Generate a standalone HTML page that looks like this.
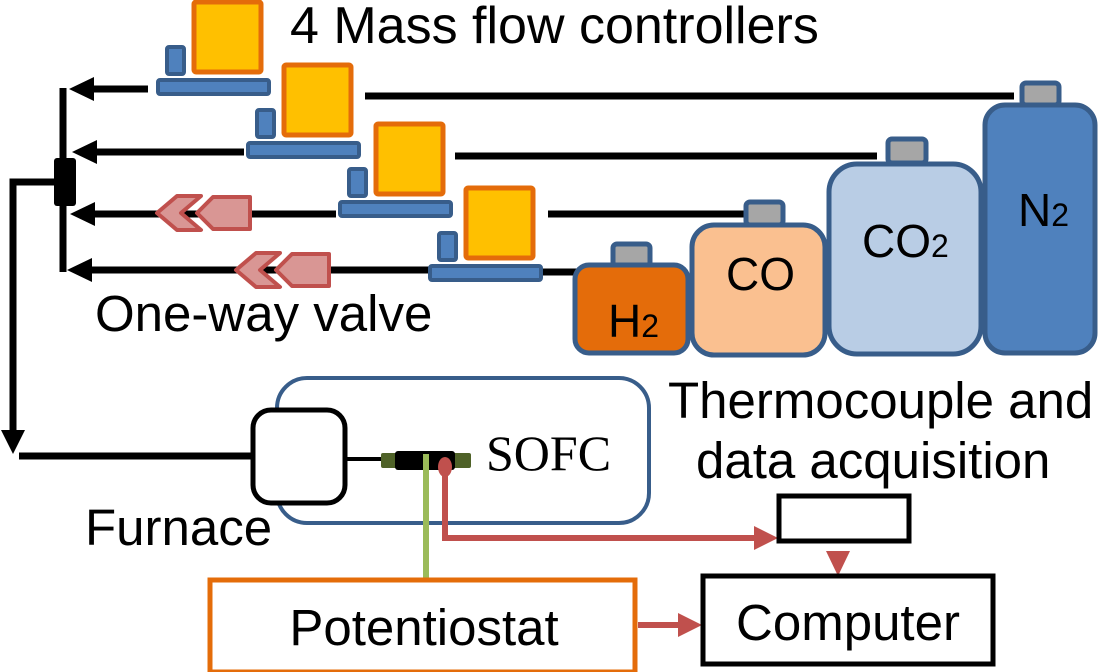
<!DOCTYPE html>
<html><head><meta charset="utf-8"><style>
html,body{margin:0;padding:0;background:#fff;}
svg{display:block;}
text{font-family:"Liberation Sans",sans-serif;fill:#000;}
</style></head><body>
<svg width="1100" height="672" viewBox="0 0 1100 672" xmlns="http://www.w3.org/2000/svg">
<defs>
<g id="mfc">
  <rect x="2" y="2" width="67" height="70" fill="#ffc000" stroke="#e46c0a" stroke-width="5" rx="2"/>
  <rect x="-25" y="47" width="17" height="27" fill="#4f81bd" stroke="#385d8a" stroke-width="4" rx="2"/>
  <rect x="-34" y="80" width="111" height="14" fill="#4f81bd" stroke="#385d8a" stroke-width="4" rx="2"/>
</g>
<g id="valve">
  <polygon points="0,17 20,0 44,0 24,17 44,34 20,34" fill="#d99694" stroke="#c0504d" stroke-width="4" stroke-linejoin="round"/>
  <polygon points="40,17 56,1 93,1 93,33 56,33" fill="#d99694" stroke="#c0504d" stroke-width="4" stroke-linejoin="round"/>
</g>
</defs>

<g stroke="#000" stroke-width="7">
<line x1="365" y1="96" x2="1014" y2="96"/>
<line x1="455" y1="156" x2="877" y2="156"/>
<line x1="548" y1="214" x2="746" y2="214"/>
<line x1="540" y1="272" x2="580" y2="272"/>
</g>

<g stroke="#000" stroke-width="7">
<line x1="148" y1="89" x2="85" y2="89"/>
<line x1="244" y1="152" x2="88" y2="152"/>
<line x1="336" y1="214" x2="88" y2="214"/>
<line x1="430" y1="270" x2="85" y2="270"/>
<line x1="63" y1="88" x2="63" y2="272"/>
<polyline points="55,182 13,182 13,440" fill="none"/>
<line x1="19" y1="456" x2="255" y2="456"/>
</g>
<g fill="#000">
<polygon points="69,89 94,77 94,101"/>
<polygon points="72,152 97,140 97,164"/>
<polygon points="70,214 95,202 95,226"/>
<polygon points="67,270 92,258 92,282"/>
<polygon points="13,454 1,430 25,430"/>
<rect x="54" y="158" width="22" height="48" rx="3"/>
</g>

<use href="#valve" x="157" y="196"/>
<use href="#valve" x="236" y="253"/>

<use href="#mfc" x="192" y="0"/>
<use href="#mfc" x="282" y="63"/>
<use href="#mfc" x="374" y="122"/>
<use href="#mfc" x="464" y="186"/>

<g stroke="#385d8a" stroke-width="5">
<rect x="613" y="244" width="37" height="22" fill="#a6a6a6" rx="4"/>
<rect x="575" y="265" width="113" height="88" fill="#e46c0a" rx="14"/>
<rect x="746" y="202" width="37" height="23" fill="#a6a6a6" rx="4"/>
<rect x="692" y="225" width="133" height="130" fill="#fac090" rx="22"/>
<rect x="888" y="139" width="38" height="24" fill="#a6a6a6" rx="4"/>
<rect x="829" y="164" width="152" height="190" fill="#b9cde5" rx="28"/>
<rect x="1022" y="83" width="37" height="22" fill="#a6a6a6" rx="4"/>
<rect x="985" y="105" width="110" height="248" fill="#4f81bd" rx="20"/>
</g>
<text x="608" y="337" font-size="46">H<tspan font-size="32">2</tspan></text>
<text x="726" y="290" font-size="46">CO</text>
<text x="862" y="257" font-size="46">CO<tspan font-size="32">2</tspan></text>
<text x="1018" y="226" font-size="46">N<tspan font-size="32">2</tspan></text>

<rect x="277" y="378" width="372" height="145" rx="30" fill="none" stroke="#385d8a" stroke-width="4"/>
<rect x="253" y="410" width="92" height="93" rx="18" fill="#fff" stroke="#000" stroke-width="5"/>
<line x1="345" y1="459" x2="384" y2="459" stroke="#000" stroke-width="4"/>
<rect x="381" y="453" width="90" height="15" rx="2" fill="#4f6228"/>
<rect x="395" y="451" width="60" height="19" rx="3" fill="#000"/>
<text x="486" y="470" font-size="50" style="font-family:'Liberation Serif',serif">SOFC</text>

<line x1="426" y1="454" x2="426" y2="582" stroke="#9bbb59" stroke-width="6"/>
<polyline points="445,470 445,538 760,538" fill="none" stroke="#c0504d" stroke-width="6"/>
<ellipse cx="445" cy="467" rx="7" ry="10" fill="#c0504d"/>
<polygon points="778,538 754,526 754,550" fill="#c0504d"/>
<polygon points="838,576 826,551 850,551" fill="#c0504d"/>
<line x1="638" y1="625" x2="682" y2="625" stroke="#c0504d" stroke-width="6"/>
<polygon points="702,625 678,613 678,637" fill="#c0504d"/>

<rect x="779" y="496" width="130" height="45" fill="#fff" stroke="#000" stroke-width="5"/>
<rect x="210" y="580" width="425" height="92" fill="#fff" stroke="#e46c0a" stroke-width="5"/>
<rect x="703" y="576" width="290" height="88" fill="#fff" stroke="#000" stroke-width="5"/>
<text x="424" y="645" font-size="51" text-anchor="middle">Potentiostat</text>
<text x="848" y="640" font-size="51" text-anchor="middle">Computer</text>

<text x="290" y="43" font-size="52">4 Mass flow controllers</text>
<text x="95" y="331" font-size="51">One-way valve</text>
<text x="668" y="418" font-size="51">Thermocouple and</text>
<text x="696" y="478" font-size="51">data acquisition</text>
<text x="85" y="545" font-size="51">Furnace</text>
</svg>
</body></html>
